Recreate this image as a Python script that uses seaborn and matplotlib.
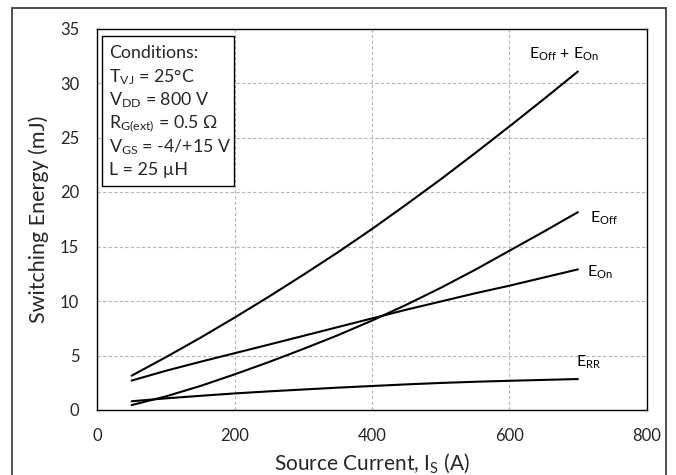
import numpy as np
import pandas as pd
import matplotlib
matplotlib.use("Agg")
import matplotlib.pyplot as plt
from matplotlib.patches import Rectangle
import seaborn as sns

# ---- data ----
current = [50, 100, 150, 200, 250, 300, 350, 400, 450, 500, 550, 600, 650, 700]
e_off_on = [3.15, 4.85, 6.62, 8.48, 10.4, 12.4, 14.45, 16.6, 18.85, 21.15, 23.55, 26.0, 28.5, 31.05]
e_off = [0.45, 1.25, 2.20, 3.27, 4.40, 5.60, 6.85, 8.20, 9.65, 11.2, 12.85, 14.6, 16.35, 18.15]
e_on = [2.70, 3.60, 4.42, 5.21, 6.00, 6.80, 7.60, 8.40, 9.20, 9.95, 10.7, 11.4, 12.15, 12.9]
e_rr = [0.80, 1.07, 1.30, 1.52, 1.71, 1.88, 2.05, 2.20, 2.35, 2.48, 2.59, 2.68, 2.76, 2.84]

series_names = ["EoffEon", "Eoff", "Eon", "Err"]
series_vals = [e_off_on, e_off, e_on, e_rr]

x_ticks = [0, 200, 400, 600, 800]
y_ticks = [0, 5, 10, 15, 20, 25, 30, 35]

conditions = [
    "Conditions:",
    "T$_{\\mathrm{VJ}}$ = 25°C",
    "V$_{\\mathrm{DD}}$ = 800 V",
    "R$_{\\mathrm{G(ext)}}$ = 0.5 Ω",
    "V$_{\\mathrm{GS}}$ = -4/+15 V",
    "L = 25 µH",
]

df = pd.DataFrame({
    "current": np.tile(current, len(series_names)),
    "energy": np.concatenate(series_vals),
    "series": np.repeat(series_names, len(current)),
})

sns.set_style("white")
plt.rcParams["font.family"] = ["Lato", "DejaVu Sans"]
plt.rcParams["mathtext.fontset"] = "custom"
plt.rcParams["mathtext.rm"] = "Lato"
plt.rcParams["mathtext.it"] = "Lato:italic"
plt.rcParams["mathtext.bf"] = "Lato:bold"

W, H = 676, 475
fig = plt.figure(figsize=(W / 100, H / 100), dpi=100)
ax = fig.add_axes([97.3 / W, 1 - 410 / H, (646.5 - 97.3) / W, (410 - 28.5) / H])

sns.lineplot(data=df, x="current", y="energy", hue="series",
             palette={n: "black" for n in series_names}, legend=False,
             linewidth=1.5, ax=ax)

ax.set_xlim(0, 800)
ax.set_ylim(0, 35)
ax.set_xticks(x_ticks)
ax.set_yticks(y_ticks)
ax.tick_params(axis="both", length=0, labelsize=12, pad=13)
ax.grid(True, color="#b5b5b5", linestyle=(0, (3, 2)), linewidth=0.8)
for s in ax.spines.values():
    s.set_visible(True)
    s.set_color("black")
    s.set_linewidth(1.0)

ax.set_xlabel("Source Current, I$_{\\mathrm{S}}$ (A)", fontsize=15, labelpad=5)
ax.set_ylabel("Switching Energy (mJ)", fontsize=15.5, labelpad=8)

# curve labels
lab_kw = dict(fontsize=11.5, ha="left", va="center", color="black")
ax.text(629, 32.6, "E$_{\\mathrm{Off}}$ + E$_{\\mathrm{On}}$", **lab_kw)
ax.text(717, 17.6, "E$_{\\mathrm{Off}}$", **lab_kw)
ax.text(714, 12.6, "E$_{\\mathrm{On}}$", **lab_kw)
ax.text(698, 4.4, "E$_{\\mathrm{RR}}$", **lab_kw)

# conditions box
ax_w = 646.5 - 97.3
ax_h = 410 - 28.5
bx0 = (102 - 97.3) / ax_w
bx1 = (234.3 - 97.3) / ax_w
by0 = (410 - 185.7) / ax_h
by1 = (410 - 36) / ax_h
ax.add_patch(Rectangle((bx0, by0), bx1 - bx0, by1 - by0, transform=ax.transAxes,
                       facecolor="white", edgecolor="black", linewidth=1.0, zorder=5))
for i, line in enumerate(conditions):
    yc = 51 + 23.4 * i
    ax.text((109 - 97.3) / ax_w, (410 - yc) / ax_h, line, transform=ax.transAxes,
            fontsize=12.8, ha="left", va="center_baseline", zorder=6)

# outer figure border
fig.patches.append(Rectangle((12 / W, -0.05), (666 - 12) / W, 1 - 8 / H + 0.05,
                             transform=fig.transFigure, fill=False,
                             edgecolor="#404040", linewidth=1.3))

fig.savefig("out.png", dpi=100)
